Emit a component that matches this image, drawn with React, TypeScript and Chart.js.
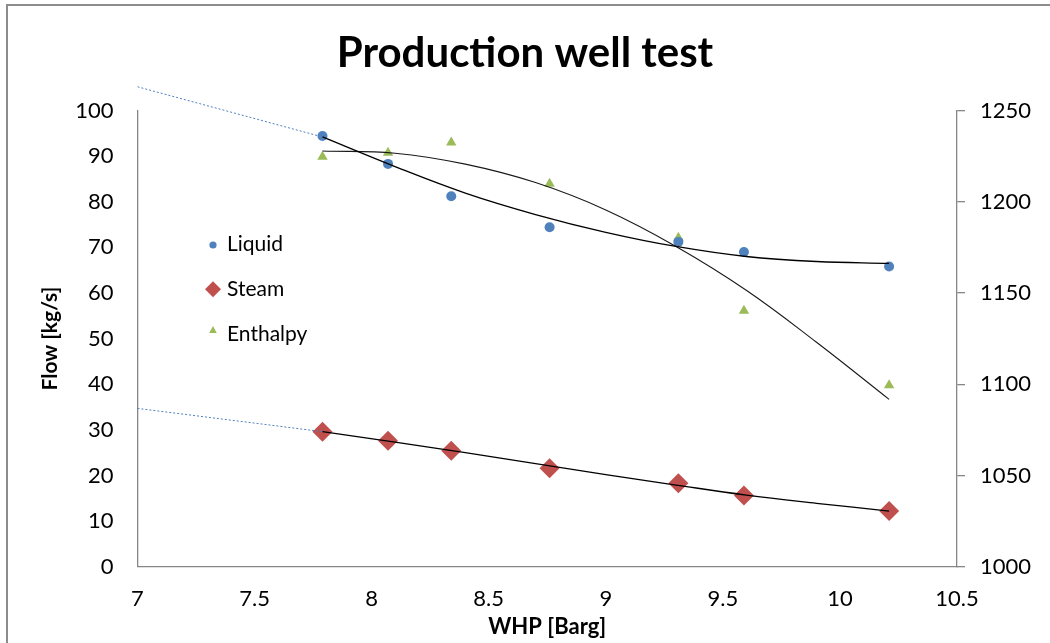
import React, { useEffect, useRef } from 'react';
import { Chart, registerables } from 'chart.js';

Chart.register(...registerables);

// ---- Data ----
const whp = [7.79, 8.07, 8.34, 8.76, 9.31, 9.59, 10.21];
const liquid = [94.4, 88.3, 81.2, 74.4, 71.2, 69.0, 65.8];
const steam = [29.6, 27.6, 25.4, 21.6, 18.3, 15.6, 12.2];
const enthalpy = [1224.6, 1226.9, 1232.4, 1209.9, 1180.2, 1140.2, 1099.4];

// Trendlines (as drawn in the picture)
const trendX = [7.79, 8.1, 8.4, 8.7, 9.0, 9.3, 9.6, 9.9, 10.21];
const liquidTrendY = [94.2, 87.7, 81.9, 77.2, 73.3, 70.2, 68.0, 66.9, 66.5];
const steamTrendY = [29.6, 27.3, 25.0, 22.6, 20.2, 17.9, 15.7, 13.9, 12.2];
const enthalpyTrendY = [1227.8, 1226.6, 1220.6, 1210.5, 1195.5, 1175.5, 1151.5, 1123.0, 1091.7];

// Backward forecasts (dotted)
const liquidForecastX = [7, 7.79];
const liquidForecastY = [105.2, 94.2];
const steamForecastX = [7, 7.79];
const steamForecastY = [34.7, 29.6];

const legendLabels = ['Liquid', 'Steam', 'Enthalpy'];

const BLUE = '#4F81BD';
const RED = '#C0504D';
const GREEN = '#9BBB59';
const AXIS = '#868686';
const FONT = 'Lato';

const pts = (xs: number[], ys: number[]) => xs.map((x, i) => ({ x, y: ys[i] }));
const plain = (v: any) => String(v);

const insideLegend = {
  id: 'insideLegend',
  afterDraw(chart: any) {
    const ctx = chart.ctx as CanvasRenderingContext2D;
    ctx.save();
    ctx.font = `21px ${FONT}`;
    ctx.textAlign = 'left';
    ctx.textBaseline = 'alphabetic';
    const rows = [
      { y: 251, cy: 245, color: BLUE, shape: 'circle' },
      { y: 296, cy: 289.3, color: RED, shape: 'diamond' },
      { y: 340.7, cy: 330, color: GREEN, shape: 'triangle' },
    ];
    rows.forEach((r, i) => {
      ctx.fillStyle = r.color;
      ctx.beginPath();
      const cx = 213;
      if (r.shape === 'circle') {
        ctx.arc(cx, r.cy, 3.6, 0, Math.PI * 2);
      } else if (r.shape === 'diamond') {
        ctx.moveTo(cx - 8, r.cy);
        ctx.lineTo(cx, r.cy - 8);
        ctx.lineTo(cx + 8, r.cy);
        ctx.lineTo(cx, r.cy + 8);
        ctx.closePath();
      } else {
        ctx.moveTo(cx, r.cy - 4);
        ctx.lineTo(cx + 3.8, r.cy + 3);
        ctx.lineTo(cx - 3.8, r.cy + 3);
        ctx.closePath();
      }
      ctx.fill();
      ctx.fillStyle = '#000';
      ctx.fillText(legendLabels[i], 227, r.y);
    });
    ctx.restore();
  },
};

export default function App() {
  const ref = useRef<HTMLCanvasElement | null>(null);

  useEffect(() => {
    if (!ref.current) return;
    const chart = new Chart(ref.current, {
      type: 'scatter',
      data: {
        datasets: [
          {
            label: 'Liquid trend',
            data: pts(trendX, liquidTrendY),
            showLine: true,
            borderColor: '#000',
            borderWidth: 1.3,
            pointRadius: 0,
            tension: 0.4,
            yAxisID: 'y',
            order: 0,
          },
          {
            label: 'Steam trend',
            data: pts(trendX, steamTrendY),
            showLine: true,
            borderColor: '#000',
            borderWidth: 1.3,
            pointRadius: 0,
            tension: 0.4,
            yAxisID: 'y',
            order: 0,
          },
          {
            label: 'Enthalpy trend',
            data: pts(trendX, enthalpyTrendY),
            showLine: true,
            borderColor: '#1a1a1a',
            borderWidth: 1.1,
            pointRadius: 0,
            tension: 0.4,
            yAxisID: 'y1',
            order: 0,
          },
          {
            label: 'Liquid forecast',
            data: pts(liquidForecastX, liquidForecastY),
            showLine: true,
            borderColor: BLUE,
            borderWidth: 1,
            borderDash: [2, 2],
            pointRadius: 0,
            yAxisID: 'y',
            clip: false,
            order: 0,
          },
          {
            label: 'Steam forecast',
            data: pts(steamForecastX, steamForecastY),
            showLine: true,
            borderColor: BLUE,
            borderWidth: 1,
            borderDash: [2, 2],
            pointRadius: 0,
            yAxisID: 'y',
            clip: false,
            order: 0,
          },
          {
            label: 'Liquid',
            data: pts(whp, liquid),
            pointStyle: 'circle',
            pointRadius: 5,
            backgroundColor: BLUE,
            borderColor: BLUE,
            borderWidth: 0,
            yAxisID: 'y',
            order: 1,
          },
          {
            label: 'Steam',
            data: pts(whp, steam),
            pointStyle: 'rectRot',
            pointRadius: 10,
            backgroundColor: RED,
            borderColor: RED,
            borderWidth: 0,
            yAxisID: 'y',
            order: 1,
          },
          {
            label: 'Enthalpy',
            data: pts(whp, enthalpy),
            pointStyle: 'triangle',
            pointRadius: 6,
            backgroundColor: GREEN,
            borderColor: GREEN,
            borderWidth: 0,
            yAxisID: 'y1',
            order: 1,
          },
        ],
      },
      options: {
        animation: false,
        responsive: false,
        maintainAspectRatio: false,
        layout: { padding: 0 },
        plugins: {
          legend: { display: false },
          tooltip: { enabled: false },
          title: {
            display: true,
            text: 'Production well test',
            color: '#000',
            font: { family: FONT, size: 42, weight: 'bold', lineHeight: 1.2 },
            padding: { top: 28, bottom: 32.1 },
          },
        },
        scales: {
          x: {
            type: 'linear',
            min: 7,
            max: 10.5,
            ticks: {
              stepSize: 0.5,
              color: '#000',
              font: { family: FONT, size: 22 },
              padding: 19,
              maxRotation: 0,
              callback: plain,
            },
            grid: { display: false, drawTicks: false },
            border: { display: true, color: AXIS, width: 1.3 },
            title: {
              display: true,
              text: 'WHP [Barg]',
              color: '#000',
              font: { family: FONT, size: 22, weight: 'bold', lineHeight: 1.2 },
              padding: { top: 0, bottom: 3 },
            },
            afterFit: (s: any) => {
              s.height = 76.3;
            },
          },
          y: {
            type: 'linear',
            position: 'left',
            min: 0,
            max: 100,
            ticks: {
              stepSize: 10,
              color: '#000',
              font: { family: FONT, size: 22 },
              padding: 24,
              callback: plain,
            },
            grid: { display: false, drawTicks: false },
            border: { display: true, color: AXIS, width: 1.3 },
            title: {
              display: true,
              text: 'Flow [kg/s]',
              color: '#000',
              font: { family: FONT, size: 21, weight: 'bold', lineHeight: 1.2 },
              padding: { top: 38, bottom: 0 },
            },
            afterFit: (s: any) => {
              s.width = 137.5;
            },
          },
          y1: {
            type: 'linear',
            position: 'right',
            min: 1000,
            max: 1250,
            ticks: {
              stepSize: 50,
              color: '#000',
              font: { family: FONT, size: 22 },
              padding: 15,
              callback: plain,
            },
            grid: {
              display: true,
              drawOnChartArea: false,
              drawTicks: true,
              tickLength: 8,
              color: AXIS,
              lineWidth: 1.3,
            },
            border: { display: true, color: AXIS, width: 1.3 },
            afterFit: (s: any) => {
              s.width = 93;
            },
          },
        },
      } as any,
      plugins: [insideLegend],
    });
    return () => chart.destroy();
  }, []);

  return (
    <div
      style={{
        position: 'fixed',
        left: 0,
        top: 0,
        width: 1050,
        height: 643,
        overflow: 'hidden',
        background: '#fff',
      }}
    >
      <canvas ref={ref} width={1050} height={643} style={{ display: 'block', width: 1050, height: 643 }} />
      <div
        style={{
          position: 'absolute',
          left: 6,
          top: 4,
          width: 1100,
          height: 700,
          border: '2px solid #8c8c8c',
          pointerEvents: 'none',
        }}
      />
    </div>
  );
}
